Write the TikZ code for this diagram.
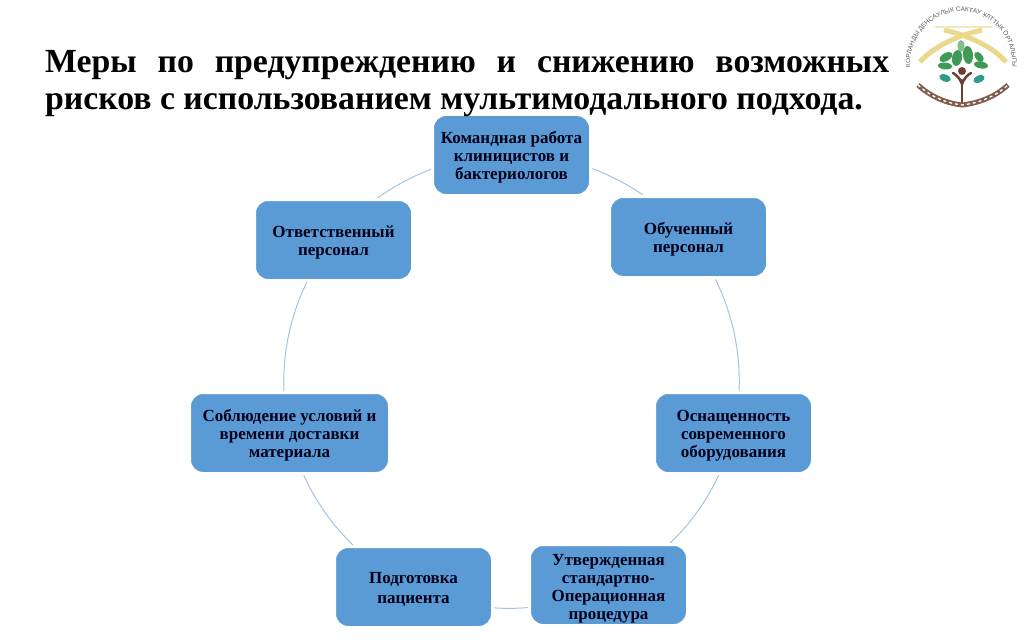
\documentclass[tikz,border=0pt]{standalone}
\usepackage{fontspec}
\setmainfont{Liberation Serif}
\newfontfamily\logofont{Liberation Sans}
\usetikzlibrary{decorations.text,backgrounds}
\definecolor{boxblue}{HTML}{5B9BD5}
\definecolor{arcblue}{HTML}{A5C3E0}
\definecolor{leafgreen}{HTML}{3E9A56}
\definecolor{leafteal}{HTML}{2F9C85}
\definecolor{barkbrown}{HTML}{6B4030}
\definecolor{wheat}{HTML}{E9D98A}
\newcommand{\tst}{\rule{0pt}{16pt}}
\tikzset{
  x=1pt,y=-1pt,
  stepbox/.style={rectangle,rounded corners=13.5pt,fill=boxblue,draw=white,line width=3pt,minimum height=81pt,minimum width=158pt,inner sep=0pt,align=center,font=\bfseries\fontsize{17}{18}\selectfont,text=black!90!blue},
  ring/.style={draw=arcblue,line width=1pt,bend left=25.7,looseness=0.9},
}
\begin{document}
\begin{tikzpicture}
\useasboundingbox (0,0) rectangle (1024,639);
\node[stepbox] (a) at (511.5,155) {\tst Командная работа\\клиницистов и\\бактериологов};
\node[stepbox] (b) at (688.5,237) {\tst Обученный\\персонал};
\node[stepbox] (c) at (733.5,433) {\tst Оснащенность\\современного\\оборудования};
\node[stepbox] (d) at (608.5,585) {\rule{0pt}{18pt}Утвержденная\\стандартно-\\Операционная\\процедура};
\node[stepbox] (e) at (413.5,587) {\tst Подготовка\\[2pt]пациента};
\node[stepbox,minimum width=200pt] (f) at (289.5,433) {\tst Соблюдение условий и\\времени доставки\\материала};
\node[stepbox] (g) at (333.5,240) {\tst Ответственный\\персонал};
\node[anchor=north west,inner sep=0pt,text width=844pt,align=justify,font=\bfseries\fontsize{33.75}{37}\selectfont] (title) at (45,50) {Меры по предупреждению и снижению возможных рисков с использованием мультимодального подхода.};
\begin{scope}[on background layer]
\draw[ring] (a.center) to (b.center);
\draw[ring] (b.center) to (c.center);
\draw[ring] (c.center) to (d.center);
\draw[ring] (d.center) to (e.center);
\draw[ring] (e.center) to (f.center);
\draw[ring] (f.center) to (g.center);
\draw[ring] (g.center) to (a.center);
\end{scope}
% logo
\draw[wheat,line width=5pt] (920,62) .. controls (932,48) and (955,36) .. (982,30);
\draw[wheat,line width=5pt] (1006,62) .. controls (994,48) and (971,36) .. (944,30);
\draw[wheat!60!white,line width=1.5pt] (935,27) -- (992,27);
\path[decorate,decoration={text along path,text align=center,text={|\logofont\fontsize{6.4}{7}\selectfont\color{black!65}|КОРЛАНДЫ ДЕНСАУЛЫК САКТАУ ҰЛТТЫК ОРТАЛЫГЫ}}]
  (912,77) arc[start angle=195,end angle=-15,x radius=51pt,y radius=52pt];
\draw[barkbrown,line width=2.5pt,line cap=round] (962,103) -- (962,80);
\draw[barkbrown,line width=2.5pt,line cap=round] (962,84) .. controls (960,79) and (957,75) .. (953,73);
\draw[barkbrown,line width=2.5pt,line cap=round] (962,84) .. controls (964,79) and (967,75) .. (971,73);
\fill[barkbrown] (962,71) circle[radius=4pt];
\foreach \lx/\ly/\la/\lc/\lr/\ls in {968/55/85/leafgreen/9/5,957/58/100/leafgreen/8/5,961/46/90/leafgreen!65!white/6/3.5,979/57/50/leafgreen/6/3.5,946/57/150/leafgreen/7/4,981/65/10/leafgreen/7/3.5,945/66/185/leafgreen/7/3.5,945/78/200/leafteal/6/3.5,979/79/-25/leafteal/6/3.5}
  \fill[\lc,rotate around={-\la:(\lx,\ly)}] (\lx,\ly) ellipse[x radius=\lr pt,y radius=\ls pt];
\draw[barkbrown!85,line width=5pt] (918,85) .. controls (930,96) and (945,103) .. (962,105) .. controls (980,103) and (996,96) .. (1008,85);
\draw[white,line width=1.3pt,dash pattern=on 3pt off 3pt] (918,85) .. controls (930,96) and (945,103) .. (962,105) .. controls (980,103) and (996,96) .. (1008,85);
\end{tikzpicture}
\end{document}
